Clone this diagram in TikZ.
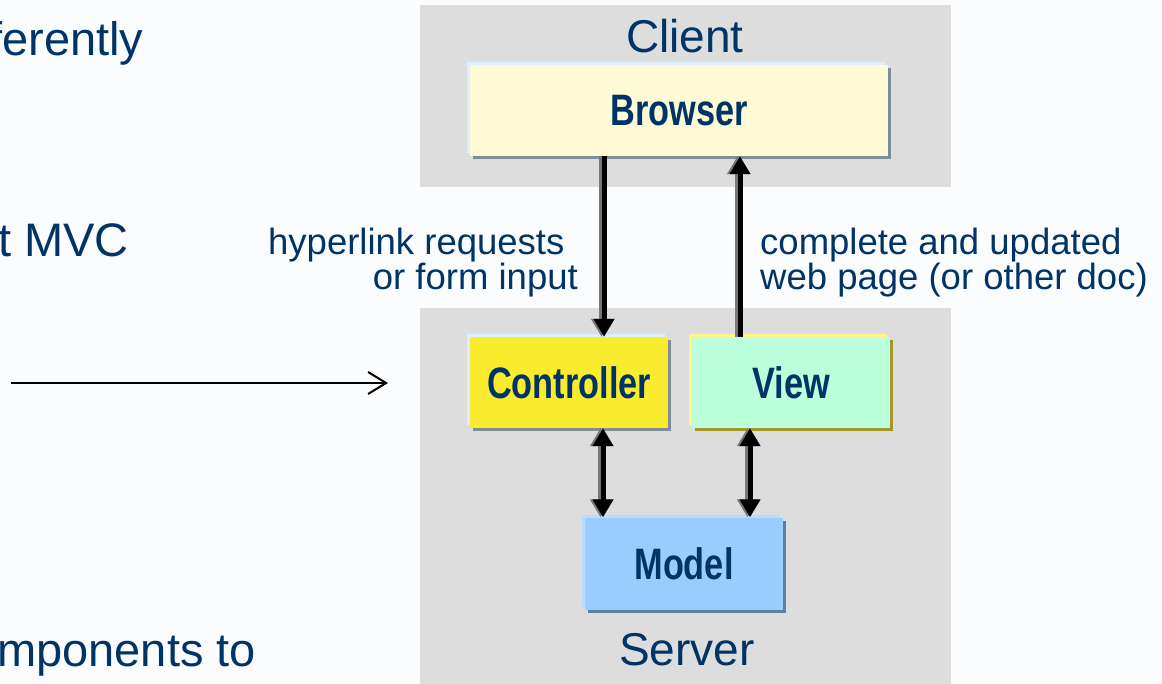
\documentclass[tikz,border=0pt]{standalone}
\usepackage{fontspec}
\setmainfont{Liberation Sans}
\usepackage{graphicx}
\usetikzlibrary{arrows.meta,shadows,calc}
\definecolor{bgc}{HTML}{FBFCFE}
\definecolor{panelc}{HTML}{DDDDDD}
\definecolor{txt}{HTML}{003366}
\definecolor{browserc}{HTML}{FFFAD6}
\definecolor{ctrlc}{HTML}{F9EB2D}
\definecolor{viewc}{HTML}{BBFFDB}
\definecolor{modelc}{HTML}{99CCFF}
\definecolor{hlblue}{HTML}{DDEEFF}
\definecolor{hlyel}{HTML}{FFF38A}
\definecolor{hlmodel}{HTML}{B8DCFF}
\definecolor{shgray}{HTML}{7F8C99}
\definecolor{shol}{HTML}{A0992A}
\definecolor{shmodel}{HTML}{5F7F9F}
\definecolor{ghostc}{HTML}{777777}
\begin{document}
\begin{tikzpicture}[x=1pt,y=-1pt,
  panel/.style={fill=panelc, draw=none, inner sep=0pt},
  box/.style={inner sep=0pt, minimum width=198pt, minimum height=91pt, text=txt,
    font=\fontsize{44}{50}\selectfont\bfseries},
  hl/.style={general shadow={shadow xshift=-3pt,shadow yshift=3pt,fill=#1}},
  sh/.style={general shadow={shadow xshift=3pt,shadow yshift=-3pt,fill=#1}},
  big/.style={text=txt, font=\fontsize{46}{50}\selectfont, inner sep=0pt},
  side/.style={text=txt, font=\fontsize{47}{50}\selectfont, inner sep=0pt},
  lbl/.style={text=txt, font=\fontsize{36.5}{36}\selectfont, inner sep=0pt},
  flow/.style={line width=5pt, -{Triangle[length=18pt,width=20pt]}},
  flowtwo/.style={line width=5pt, {Triangle[length=18pt,width=20pt]}-{Triangle[length=18pt,width=20pt]}},
  ghost/.style={draw=ghostc, transform canvas={xshift=-2.5pt}},
  thin/.style={line width=2pt, -{Straight Barb[length=18pt,width=22pt]}}
]
\clip (0,0) rectangle (1162,683);
\fill[bgc] (0,0) rectangle (1162,683);

% panels
\node[panel, minimum width=531pt, minimum height=182pt] (clientp) at (685.5,96) {};
\node[panel, minimum width=531pt, minimum height=376pt] (serverp) at (685.5,496) {};
\node[big, anchor=base] (client) at (685,52) {Client};
\node[big, anchor=base] (server) at (687,665) {Server};

% boxes
\node[box, minimum width=418pt, fill=browserc, sh=shgray, hl=hlblue] (browser) at (679,110.5) {\scalebox{0.78}[1]{Browser}};
\node[box, fill=ctrlc, sh=shgray, hl=hlblue] (ctrl) at (569,382.5) {\scalebox{0.78}[1]{Controller}};
\node[box, fill=viewc, sh=shol, hl=hlyel] (view) at (791,382.5) {\scalebox{0.78}[1]{View}};
\node[box, minimum height=92pt, fill=modelc, sh=shmodel, hl=hlmodel] (model) at (684,563.5) {\scalebox{0.78}[1]{Model}};

% connector anchors
\coordinate (c1) at ([xshift=35pt]ctrl.north);
\coordinate (c2) at ([xshift=-51pt]view.north);
\coordinate (c3) at ([xshift=34pt]ctrl.south);
\coordinate (c4) at ([xshift=-41pt]view.south);

\draw[flow, ghost] (c1 |- browser.south) -- (c1);
\draw[flow] (c1 |- browser.south) -- (c1);
\draw[flow, ghost] (c2) -- (c2 |- browser.south);
\draw[flow] (c2) -- (c2 |- browser.south);
\draw[flowtwo, ghost] (c3) -- (c3 |- model.north);
\draw[flowtwo] (c3) -- (c3 |- model.north);
\draw[flowtwo, ghost] (c4) -- (c4 |- model.north);
\draw[flowtwo] (c4) -- (c4 |- model.north);

% labels
\node[lbl, anchor=base west] (hl1) at (268,254) {hyperlink requests};
\node[lbl, anchor=base east] (hl2) at (578,289) {or form input};
\node[lbl, anchor=base west] (cu1) at (760,254) {complete and updated};
\node[lbl, anchor=base west] (cu2) at (760,289) {web page (or other doc)};

% left side text (cut off at the left edge, as in the reference)
\node[side, anchor=base west] (t1) at (-11,55) {ferently};
\node[side, anchor=base west] (t2) at (-2,256) {t MVC};
\node[side, anchor=base west] (t3) at (-3,666) {mponents to};

\coordinate (l1) at (11,383);
\coordinate (l2) at (388,383);
\draw[thin] (l1) -- (l2);
\end{tikzpicture}
\end{document}
